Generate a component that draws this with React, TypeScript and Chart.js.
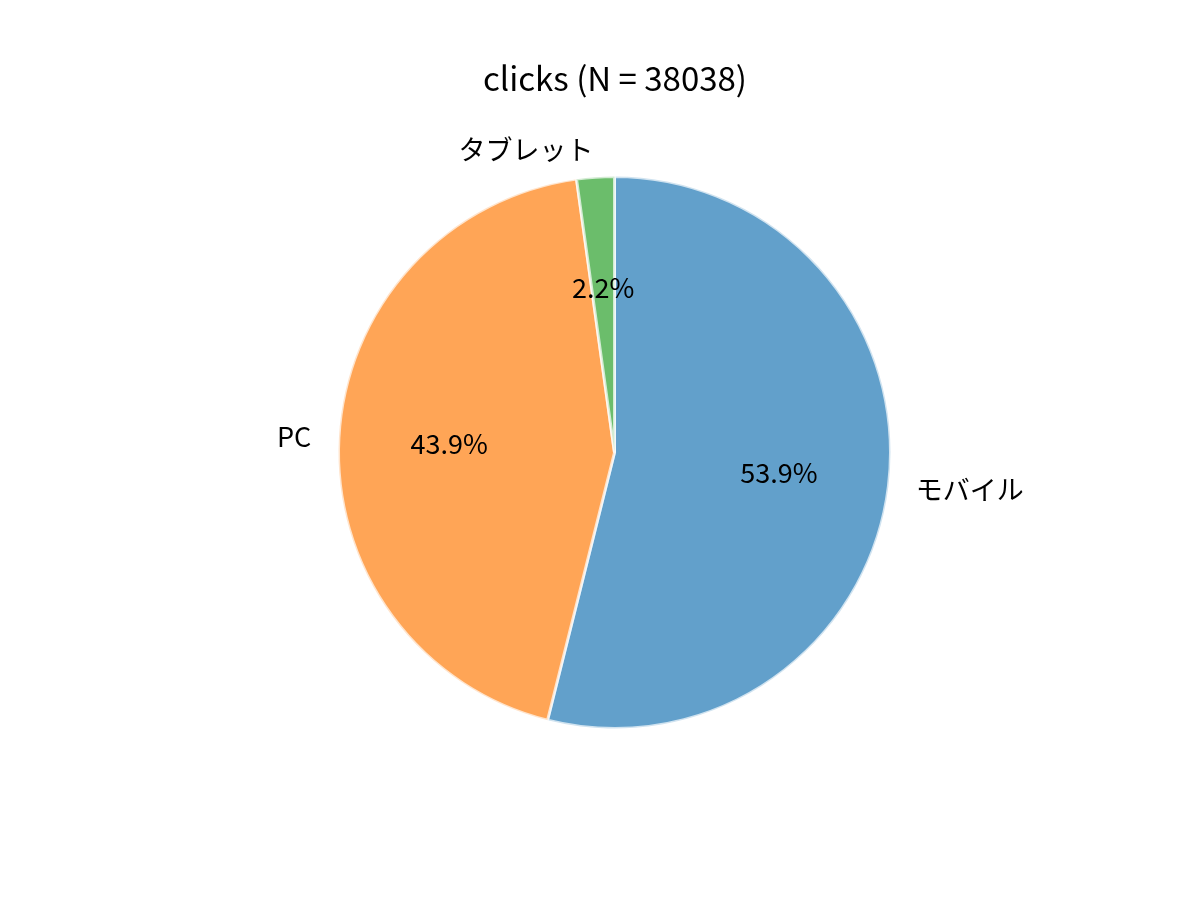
import { useEffect, useRef } from "react";
import { Chart, registerables } from "chart.js";
import type { ChartConfiguration, Plugin } from "chart.js";

Chart.register(...registerables);

// ---------------------------------------------------------------------------
// DATA
// ---------------------------------------------------------------------------
const TITLE = "clicks (N = 38038)";
const CATEGORIES = ["モバイル", "PC", "タブレット"];
const CLICKS = [20503, 16699, 836];
const COLORS = ["#62a0cb", "#ffa556", "#6bbd6b"];

const FONT = '"Noto Sans CJK JP", "Noto Sans", sans-serif';

// matplotlib style labels: names at 1.1r, percentages at 0.6r
const pieLabels: Plugin<"pie"> = {
  id: "pieLabels",
  afterDraw(chart) {
    const { ctx } = chart;
    const meta = chart.getDatasetMeta(0);
    const total = CLICKS.reduce((a, b) => a + b, 0);

    ctx.save();
    ctx.fillStyle = "#000";

    // title
    ctx.font = `33px ${FONT}`;
    ctx.textAlign = "center";
    ctx.textBaseline = "alphabetic";
    ctx.fillText(TITLE, 615, 91);

    ctx.textBaseline = "middle";
    meta.data.forEach((el, i) => {
      const arc = el as unknown as {
        x: number;
        y: number;
        startAngle: number;
        endAngle: number;
        outerRadius: number;
      };
      const mid = (arc.startAngle + arc.endAngle) / 2;
      const cos = Math.cos(mid);
      const sin = Math.sin(mid);
      const r = arc.outerRadius;

      ctx.font = `27px ${FONT}`;
      ctx.textAlign = cos >= 0 ? "left" : "right";
      ctx.fillText(CATEGORIES[i], arc.x + cos * r * 1.1, arc.y + sin * r * 1.1);

      ctx.textAlign = "center";
      const pct = ((CLICKS[i] / total) * 100).toFixed(1) + "%";
      ctx.fillText(pct, arc.x + cos * r * 0.6, arc.y + sin * r * 0.6);
    });
    ctx.restore();
  },
};

const createChartConfig = (): ChartConfiguration<"pie"> => ({
  type: "pie",
  data: {
    labels: CATEGORIES,
    datasets: [
      {
        data: CLICKS,
        backgroundColor: COLORS,
        borderColor: "rgba(255,255,255,0.7)",
        borderWidth: 3,
      },
    ],
  },
  options: {
    responsive: false,
    animation: false,
    events: [],
    layout: {
      padding: { left: 337, right: 308, top: 175, bottom: 170 },
    },
    plugins: {
      legend: { display: false },
      title: { display: false },
      tooltip: { enabled: false },
    },
  },
  plugins: [pieLabels],
});

export default function App() {
  const canvasRef = useRef<HTMLCanvasElement>(null);
  const chartInstance = useRef<Chart<"pie"> | null>(null);

  useEffect(() => {
    document.body.style.margin = "0";
    if (canvasRef.current) {
      if (chartInstance.current) chartInstance.current.destroy();
      chartInstance.current = new Chart(canvasRef.current, createChartConfig());
    }
    return () => {
      if (chartInstance.current) {
        chartInstance.current.destroy();
        chartInstance.current = null;
      }
    };
  }, []);

  return (
    <div style={{ width: 1200, height: 900, background: "#fff" }}>
      <canvas
        ref={canvasRef}
        width={1200}
        height={900}
        style={{ display: "block", width: 1200, height: 900 }}
      />
    </div>
  );
}
